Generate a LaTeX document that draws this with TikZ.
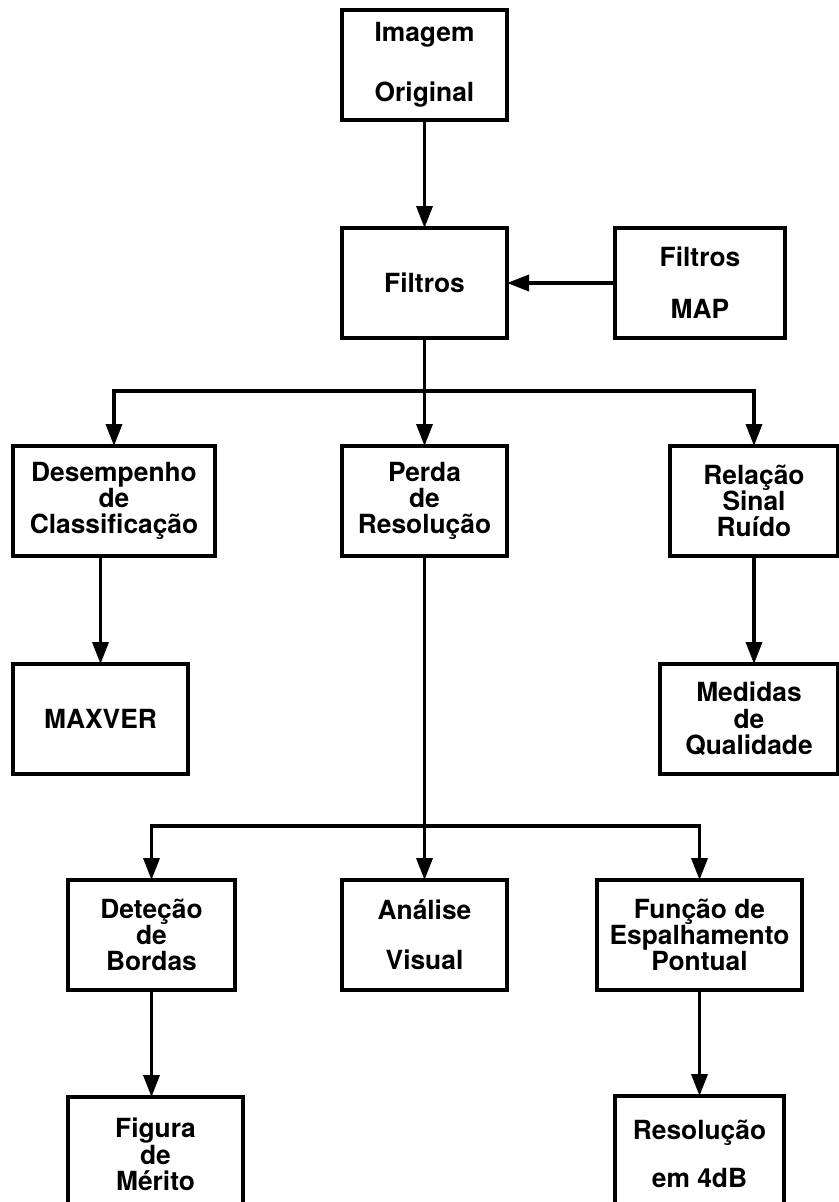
\documentclass[tikz,border=0pt]{standalone}
\usepackage{fontspec}
\setmainfont{TeX Gyre Heros}
\usetikzlibrary{positioning, arrows.meta}

\begin{document}
\begin{tikzpicture}[line width = 2pt, font = \bfseries\fontsize{15}{15}\selectfont, -{Triangle[length = 0.44cm, width = 0.32cm]},
  box/.style = {draw, align = center, inner sep = 0pt, outer sep = 0pt, minimum height = 2.2cm}]
  \clip (0,0) rectangle (16.78,-24.04);

  \node (imagem) [box, minimum width = 3.3cm] at (8.49,-1.3) {Imagem\\[19pt]Original};
  \node (filtros) [box, minimum width = 3.3cm, below = 2.16cm of imagem] {Filtros};
  \node (map) [box, minimum width = 3.4cm, right = 2.16cm of filtros] {Filtros\\[14.6pt]MAP};
  \node (perda) [box, minimum width = 3.3cm, below = 2.16cm of filtros] {Perda\\de\\Resolução};
  \node (desempenho) [box, minimum width = 4.04cm, left = 2.54cm of perda] {Desempenho\\de\\Classificação};
  \node (relacao) [box, minimum width = 3.36cm, right = 3.26cm of perda] {Relação\\Sinal\\Ruído};
  \node (maxver) [box, minimum width = 3.5cm, below = 2.16cm of desempenho.south west, anchor = north west] {MAXVER};
  \node (medidas) [box, minimum width = 3.56cm, below = 2.16cm of relacao.south east, anchor = north east] {Medidas\\de\\Qualidade};
  \node (analise) [box, minimum width = 3.3cm, below = 6.48cm of perda] {Análise\\[13.4pt]Visual};
  \node (detecao) [box, minimum width = 3.34cm, left = 2.14cm of analise] {Deteção\\de\\Bordas};
  \node (funcao) [box, minimum width = 4.1cm, right = 1.8cm of analise] {Função de\\Espalhamento\\Pontual};
  \node (figura) [box, minimum width = 3.5cm, minimum height = 2.3cm, below = 2.14cm of detecao.south west, anchor = north west] {Figura\\de\\Mérito};
  \node (resolucao) [box, minimum width = 3.38cm, minimum height = 2.3cm, below = 2.12cm of funcao] {Resolução\\[12.3pt]em 4dB};

  \coordinate [below = 1.06cm of filtros.south] (split1);
  \coordinate [below = 5.4cm of perda.south] (split2);

  \draw (imagem) -- (filtros);
  \draw (map) -- (filtros);
  \draw (filtros) -- (perda);
  \draw (split1) -| (desempenho);
  \draw (split1) -| (relacao);
  \draw (maxver.north |- desempenho.south) -- (maxver);
  \draw (relacao) -- (relacao |- medidas.north);
  \draw (perda) -- (analise);
  \draw (split2) -| (detecao);
  \draw (split2) -| (funcao);
  \draw (detecao) -- (detecao |- figura.north);
  \draw (funcao) -- (resolucao);
\end{tikzpicture}
\end{document}
